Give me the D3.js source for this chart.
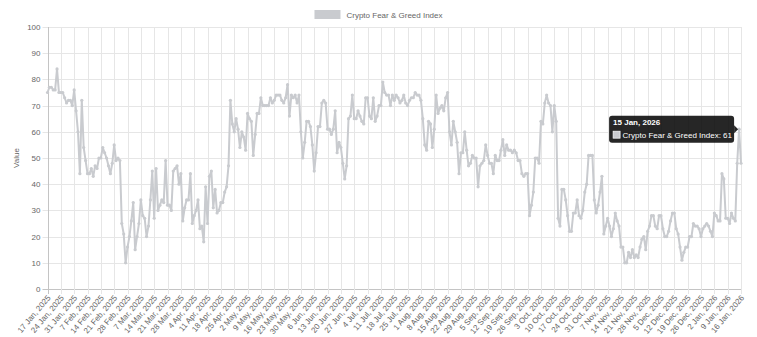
<!DOCTYPE html>
<html>
<head>
<meta charset="utf-8">
<script src="https://cdn.jsdelivr.net/npm/d3@7"></script>
<style>
body { margin: 0; background: #fff; }
#chart { width: 757px; height: 337px; }
text { font-family: "Liberation Sans", Arial, sans-serif; }
</style>
</head>
<body>
<div id="chart"></div>
<script>
const seriesName = "Crypto Fear & Greed Index";
const startDate = "2025-01-17";
const yTicks = [0, 10, 20, 30, 40, 50, 60, 70, 80, 90, 100];

// one value per day, 17 Jan 2025 .. 16 Jan 2026
const values = [
    75,77,77,76,76,84,75,75,75,73, 71,72,72,70,76,68,60,44,72,54,
    49,44,44,46,43,47,46,50,50,54, 52,50,47,44,48,55,49,50,49,25,
    21,10,16,20,26,33,15,20,25,34, 28,27,20,24,34,45,27,46,30,32,
    34,33,49,32,32,30,45,46,47,40, 44,26,31,34,34,44,25,28,30,34,
    23,24,18,39,25,43,45,31,38,29,
    30,33,33,37,39,47,72,63,60,65, 61,54,60,58,53,67,65,64,51,59,
    67,67,73,70,70,70,70,73,71,72, 74,74,74,72,71,73,78,66,74,73,
    74,71,74,60,50,56,64,64,62,55, 45,52,62,62,71,72,71,61,61,59,
    61,68,52,56,54,48,42,47,65,66, 74,65,65,68,66,64,63,73,73,66,
    65,73,64,66,70,70,
    79,75,74,74,70,74,72,74,73,71, 72,74,71,70,72,73,73,75,74,74,
    72,65,55,53,64,63,54,61,74,67, 69,70,68,73,75,60,55,64,60,56,
    44,52,52,60,53,47,48,51,50,50, 39,47,48,49,55,51,48,48,44,51,
    49,49,53,57,51,55,53,53,52,53, 52,49,49,44,43,44,44,28,32,37,
    50,50,48,64,63,71,74,71,70,60, 70,64,
    27,24,38,38,34,28,22,22,29,29, 34,28,27,30,37,40,51,51,51,34,
    29,32,37,43,21,24,27,24,20,23, 29,26,24,16,16,10,10,14,12,15,
    12,13,12,16,19,20,15,22,24,28, 28,24,23,28,28,23,20,20,22,26,
    29,29,23,21,16,11,14,16,16,20, 20,25,24,24,23,20,23,24,25,24,
    22,20,29,28,26,26,44,42,27,27, 25,29,27,26,48,61,48
];

const tooltipIndex = 363; // 15 Jan, 2026

const width = 757;
const height = 337;
const margin = { top: 27, right: 16, bottom: 48, left: 47.5 };

const fmt = d3.timeFormat("%-d %b, %Y");
const start = d3.timeParse("%Y-%m-%d")(startDate);
const labels = values.map((v, i) => fmt(d3.timeDay.offset(start, i)));
const data = values.map((v, i) => ({ label: labels[i], value: v }));

const svg = d3.select("#chart")
    .append("svg")
    .attr("width", width)
    .attr("height", height);

const x = d3.scalePoint()
    .domain(labels)
    .range([margin.left, width - margin.right]);

const y = d3.scaleLinear()
    .domain([0, 100])
    .range([height - margin.bottom, margin.top]);

const gridColor = "#e6e6e6";
const zeroColor = "#c4c4c4";
const textColor = "#666";
const lineColor = "rgb(201,203,207)";

const tickLabels = labels.filter((d, i) => i % 7 === 0);

// horizontal grid
svg.append("g")
    .selectAll("line")
    .data(yTicks)
    .join("line")
    .attr("x1", margin.left - 5)
    .attr("x2", width - margin.right)
    .attr("y1", d => Math.round(y(d)) + 0.5)
    .attr("y2", d => Math.round(y(d)) + 0.5)
    .attr("stroke", d => d === 0 ? zeroColor : gridColor)
    .attr("stroke-width", 1);

// vertical grid
svg.append("g")
    .selectAll("line")
    .data(tickLabels)
    .join("line")
    .attr("x1", d => Math.round(x(d)) + 0.5)
    .attr("x2", d => Math.round(x(d)) + 0.5)
    .attr("y1", margin.top)
    .attr("y2", height - margin.bottom + 5)
    .attr("stroke", (d, i) => i === 0 ? zeroColor : gridColor)
    .attr("stroke-width", 1);

// y axis labels
const yAxis = svg.append("g")
    .attr("transform", `translate(${margin.left - 4},0)`)
    .call(d3.axisLeft(y).tickValues(yTicks).tickSize(0).tickPadding(3));
yAxis.select(".domain").remove();
yAxis.selectAll("text")
    .attr("fill", textColor)
    .style("font-size", "8px");

// x axis labels
const xAxis = svg.append("g")
    .attr("transform", `translate(0,${height - margin.bottom})`)
    .call(d3.axisBottom(x).tickValues(tickLabels).tickSize(0));
xAxis.select(".domain").remove();
xAxis.selectAll("text")
    .attr("fill", textColor)
    .style("font-size", "8px")
    .attr("text-anchor", "end")
    .attr("dy", null)
    .attr("y", 0)
    .attr("transform", "translate(3,9) rotate(-50)");

// y title
svg.append("text")
    .attr("transform", `translate(19,${(margin.top + height - margin.bottom) / 2}) rotate(-90)`)
    .attr("text-anchor", "middle")
    .attr("fill", textColor)
    .style("font-size", "8px")
    .text("Value");

// series
const line = d3.line()
    .x(d => x(d.label))
    .y(d => y(d.value));

svg.append("path")
    .datum(data)
    .attr("fill", "none")
    .attr("stroke", lineColor)
    .attr("stroke-width", 2)
    .attr("stroke-linejoin", "round")
    .attr("d", line);

svg.append("g")
    .selectAll("circle")
    .data(data)
    .join("circle")
    .attr("cx", d => x(d.label))
    .attr("cy", d => y(d.value))
    .attr("r", 1.6)
    .attr("fill", lineColor);

// legend
const legend = svg.append("g");
const legendText = legend.append("text")
    .attr("x", 32)
    .attr("y", 18)
    .attr("fill", textColor)
    .style("font-size", "8px")
    .text(seriesName);
legend.append("rect")
    .attr("x", 0)
    .attr("y", 10)
    .attr("width", 26)
    .attr("height", 9)
    .attr("fill", lineColor);
const lw = 32 + legendText.node().getComputedTextLength();
legend.attr("transform", `translate(${(width - lw) / 2},0)`);

// tooltip
const tp = data[tooltipIndex];
const px = x(tp.label);
const py = y(tp.value);
const tip = svg.append("g");
const tw = 125, th = 27;
const tx = px - 5 - tw, ty = py - th / 2;
tip.append("rect")
    .attr("x", tx)
    .attr("y", ty)
    .attr("width", tw)
    .attr("height", th)
    .attr("rx", 3)
    .attr("fill", "rgba(0,0,0,0.85)");
tip.append("path")
    .attr("d", `M${tx + tw},${py - 4}L${px - 1},${py}L${tx + tw},${py + 4}Z`)
    .attr("fill", "rgba(0,0,0,0.85)");
tip.append("text")
    .attr("x", tx + 4)
    .attr("y", ty + 9)
    .attr("fill", "#fff")
    .style("font-size", "8px")
    .style("font-weight", "bold")
    .text(tp.label);
tip.append("rect")
    .attr("x", tx + 4)
    .attr("y", ty + 15.5)
    .attr("width", 7)
    .attr("height", 7)
    .attr("fill", lineColor)
    .attr("stroke", "#fff")
    .attr("stroke-width", 0.7);
tip.append("text")
    .attr("x", tx + 13.5)
    .attr("y", ty + 22)
    .attr("fill", "#fff")
    .style("font-size", "8px")
    .text(`${seriesName}: ${tp.value}`);
</script>
</body>
</html>
